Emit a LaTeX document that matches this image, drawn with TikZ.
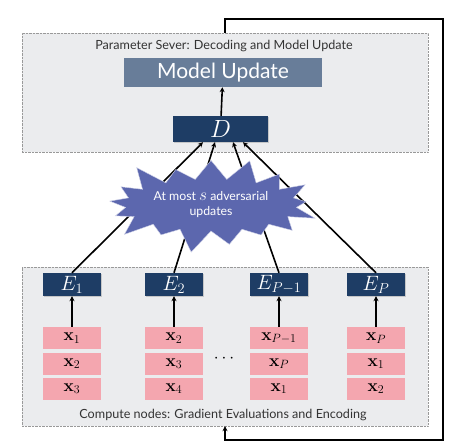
\documentclass[tikz,border=0pt]{standalone}
\usepackage[no-math]{fontspec}
\setmainfont{Lato}
\usetikzlibrary{shapes.symbols,shadows,arrows.meta}

\definecolor{panelgray}{HTML}{EBECEE}
\definecolor{slate}{HTML}{687D99}
\definecolor{navy}{HTML}{1E3D65}
\definecolor{pinkbox}{HTML}{F4A6AF}
\definecolor{starblue}{HTML}{5C67AE}

\tikzset{
  panel/.style={draw=gray!80, densely dotted, fill=panelgray, inner sep=0pt},
  enc/.style={fill=navy, text=white, minimum width=58pt, minimum height=23pt,
    inner sep=0pt, font=\fontsize{21}{22}\selectfont,
    drop shadow={opacity=0.35, shadow xshift=1pt, shadow yshift=-1pt}},
  data/.style={fill=pinkbox, minimum width=58pt, minimum height=22pt,
    inner sep=0pt, font=\fontsize{17}{18}\selectfont},
  flow/.style={line width=1.6pt, -{Stealth[length=5pt,width=5pt]}},
  loop/.style={line width=2pt, -{Stealth[length=5pt,width=5pt]}},
}

\begin{document}
\begin{tikzpicture}[x=1pt, y=-1pt]
  \useasboundingbox (0,0) rectangle (457,447);

  % the two panels
  \node[panel, minimum width=406pt, minimum height=119pt] (ps) at (225,92.5) {};
  \node[panel, minimum width=406pt, minimum height=159pt] (cn) at (225,346.5) {};
  \node[font=\fontsize{12.6}{14}\selectfont, text=black!80] (pstitle) at (224,46)
    {Parameter Sever: Decoding and Model Update};
  \node[font=\fontsize{12.6}{14}\selectfont, text=black!80] (cntitle) at (223,415)
    {Compute nodes: Gradient Evaluations and Encoding};

  % server side
  \node[fill=slate, text=white, minimum width=198pt, minimum height=29pt,
    inner sep=0pt, font=\fontsize{21}{23}\selectfont] (mu) at (223,72.5) {Model Update};
  \node[enc, minimum width=95pt, minimum height=26pt,
    font=\fontsize{23}{24}\selectfont] (D) at (220.5,129) {$D$};
  \draw[flow] (D) -- (mu);

  % encoders
  \node[enc] (e1) at (72,284.5) {$E_1$};
  \node[enc] (e2) at (174,284.5) {$E_2$};
  \node[enc] (e3) at (279,284.5) {$E_{P-1}$};
  \node[enc] (e4) at (376,284.5) {$E_P$};

  % data blocks
  \node[data] (a1) at (72,338) {$\mathbf{x}_1$};
  \node[data] (a2) at (72,363.5) {$\mathbf{x}_2$};
  \node[data] (a3) at (72,388.5) {$\mathbf{x}_3$};
  \node[data] (b1) at (174,338) {$\mathbf{x}_2$};
  \node[data] (b2) at (174,363.5) {$\mathbf{x}_3$};
  \node[data] (b3) at (174,388.5) {$\mathbf{x}_4$};
  \node[data] (c1) at (279,338) {$\mathbf{x}_{P-1}$};
  \node[data] (c2) at (279,363.5) {$\mathbf{x}_P$};
  \node[data] (c3) at (279,388.5) {$\mathbf{x}_1$};
  \node[data] (d1) at (376,338) {$\mathbf{x}_P$};
  \node[data] (d2) at (376,363.5) {$\mathbf{x}_1$};
  \node[data] (d3) at (376,388.5) {$\mathbf{x}_2$};
  \node[font=\fontsize{18}{18}\selectfont] (dots) at (224,359) {$\cdots$};

  \draw[flow] (a1) -- (e1);
  \draw[flow] (b1) -- (e2);
  \draw[flow] (c1) -- (e3);
  \draw[flow] (d1) -- (e4);

  % encoded gradients to decoder
  \draw[flow] (e1.north) -- ([xshift=-17.5pt]D.south);
  \draw[flow] (e2.north) -- ([xshift=-5.5pt]D.south);
  \draw[flow] (e3.north) -- ([xshift=12.5pt]D.south);
  \draw[flow] (e4.north) -- ([xshift=22.5pt]D.south);

  \node[starburst, fill=starblue, draw=white!70!starblue, text=white,
    minimum width=204pt, minimum height=104pt, starburst point height=26pt,
    align=center, font=\fontsize{12.3}{15}\selectfont] (adv) at (211,205)
    {At most {\fontsize{17}{15}\selectfont$s$} adversarial\\updates};

  % feedback loop
  \coordinate (turn) at (443,19);
  \draw[loop] (ps.north) |- (turn) -- (turn |- 0,440) -| (cn.south);
\end{tikzpicture}
\end{document}
